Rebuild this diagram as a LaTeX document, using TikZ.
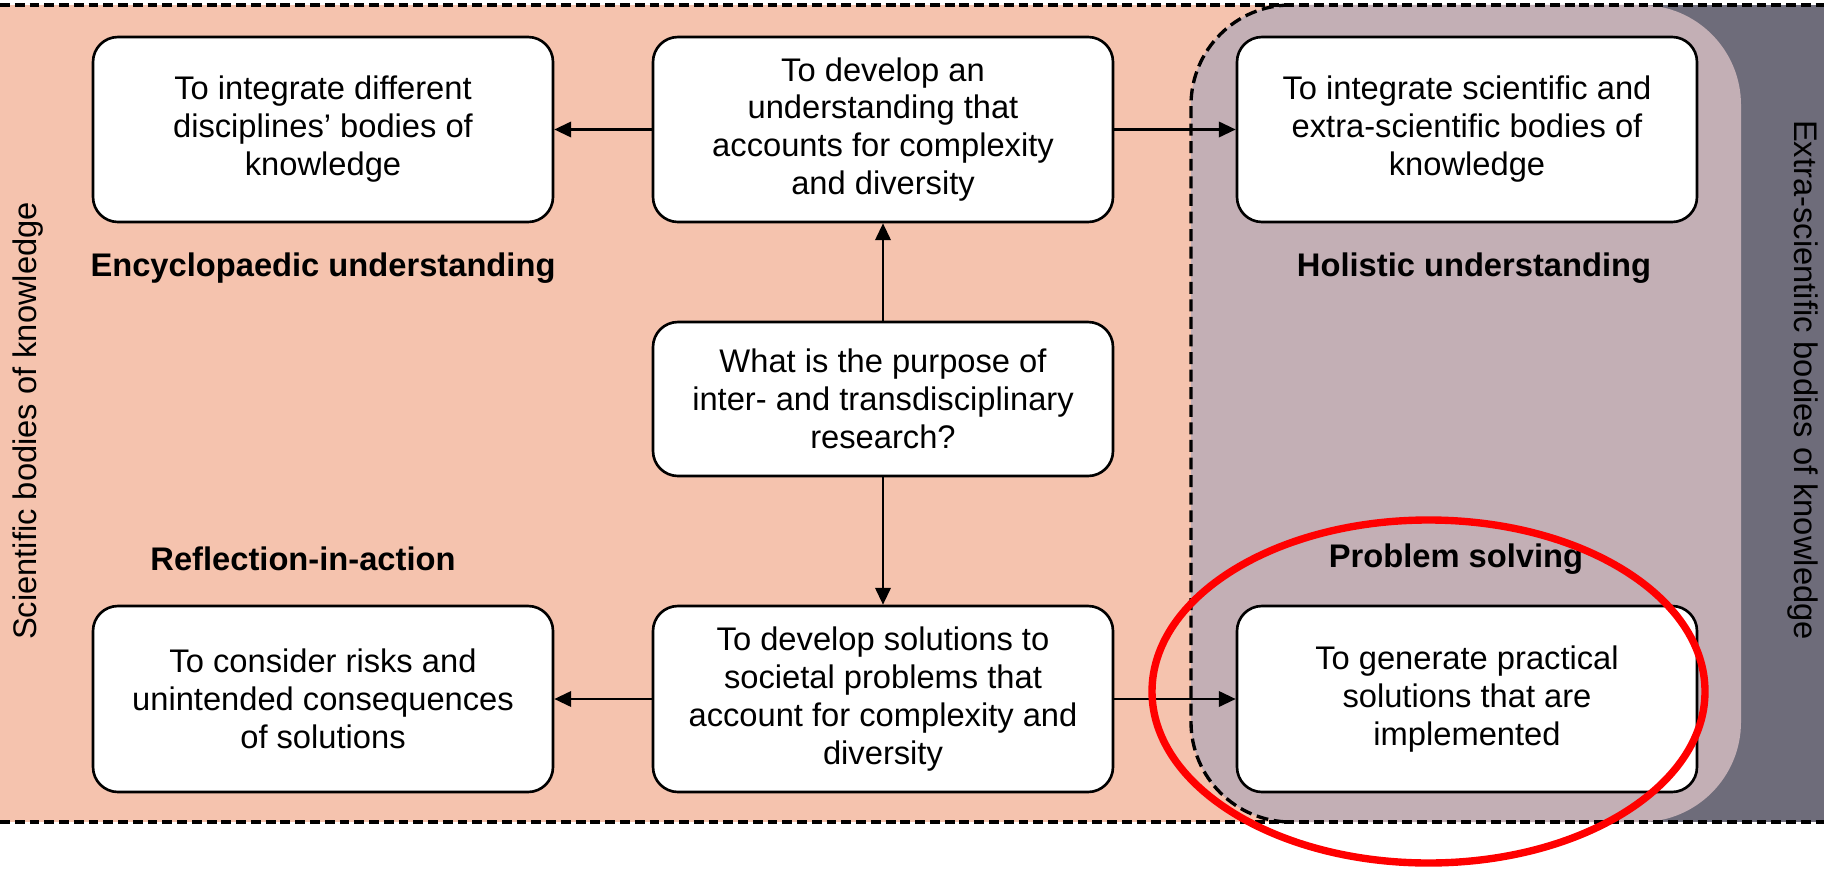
\documentclass[tikz,border=0pt]{standalone}
\usepackage{fontspec}
\setmainfont{Liberation Sans}
\usepackage{tikz}
\usetikzlibrary{arrows.meta}
\definecolor{salmon}{RGB}{245,195,174}
\definecolor{mauve}{RGB}{195,175,181}
\definecolor{slate}{RGB}{110,108,122}
\newcommand\aimfont{\fontsize{9.3}{10.8}\selectfont}
\tikzset{aim/.style={draw, fill=white, line width=0.75pt, rounded corners=0.25cm,
  minimum width=4.6cm, minimum height=1.85cm, align=center, font=\aimfont},
  tag/.style={font=\bfseries\aimfont},
  side/.style={font=\aimfont},
  link/.style={-{Triangle[length=4.8pt,width=4.4pt]}, line width=0.65pt},
  frameline/.style={line width=1.05pt, dash pattern=on 2.8pt off 1.4pt},
  regionline/.style={line width=0.95pt, dash pattern=on 3.4pt off 1.6pt},
  ring/.style={draw=red, line width=2.1pt}}

\begin{document}
\begin{tikzpicture}

	\useasboundingbox (0,0) rectangle (18.24,8.68);
	\fill[white] (0,0) rectangle (18.24,8.68);
	\fill[salmon] (0,0.46) rectangle (15,8.63);
	\fill[slate] (15,0.46) rectangle (18.24,8.63);
	\fill[mauve, rounded corners=1cm] (11.91,0.46) rectangle (17.41,8.63);
	\draw[regionline, rounded corners=1cm] (12.91,8.63) -- (11.91,8.63) -- (11.91,0.46) -- (12.91,0.46);
	\draw[frameline] (0,8.63) -- (18.24,8.63);
	\draw[frameline] (0,0.46) -- (18.24,0.46);

	\node[aim] (disc) at (3.23,7.385) {To integrate different\\disciplines' bodies of\\knowledge};
	\node[aim] (understand) at (8.83,7.385) {To develop an\\understanding that\\accounts for complexity\\and diversity};
	\node[aim] (integ) at (14.67,7.385) {To integrate scientific and\\extra-scientific bodies of\\knowledge};

	\node[aim, minimum height=1.54cm] (purpose) at (8.83,4.69) {What is the purpose of\\inter- and transdisciplinary\\research?};

	\node[aim, minimum height=1.86cm] (risks) at (3.23,1.69) {To consider risks and\\unintended consequences\\of solutions};
	\node[aim, minimum height=1.86cm] (solve) at (8.83,1.69) {To develop solutions to\\societal problems that\\account for complexity and\\diversity};
	\node[aim, minimum height=1.86cm] (practical) at (14.67,1.69) {To generate practical\\solutions that are\\implemented};

	\draw[link] (understand) -- (disc);
	\draw[link] (understand) -- (integ);
	\draw[link] (purpose) -- (understand);
	\draw[link] (purpose) -- (solve);
	\draw[link] (solve) -- (risks);
	\draw[link] (solve) -- (practical);

	\node[tag] (encyc) at (3.23,6.0) {Encyclopaedic understanding};
	\node[tag] (holistic) at (14.74,6.0) {Holistic understanding};
	\node[tag] (reflect) at (3.03,3.09) {Reflection-in-action};
	\node[tag] (problem) at (14.56,3.09) {Problem solving};

	\node[side, rotate=90] (scilabel) at (0.28,4.47) {Scientific bodies of knowledge};
	\node[side, rotate=-90] (extralabel) at (18.03,4.88) {Extra-scientific bodies of knowledge};

	\draw[ring] (14.285,1.765) ellipse [x radius=2.765, y radius=1.715];
\end{tikzpicture}
\end{document}
